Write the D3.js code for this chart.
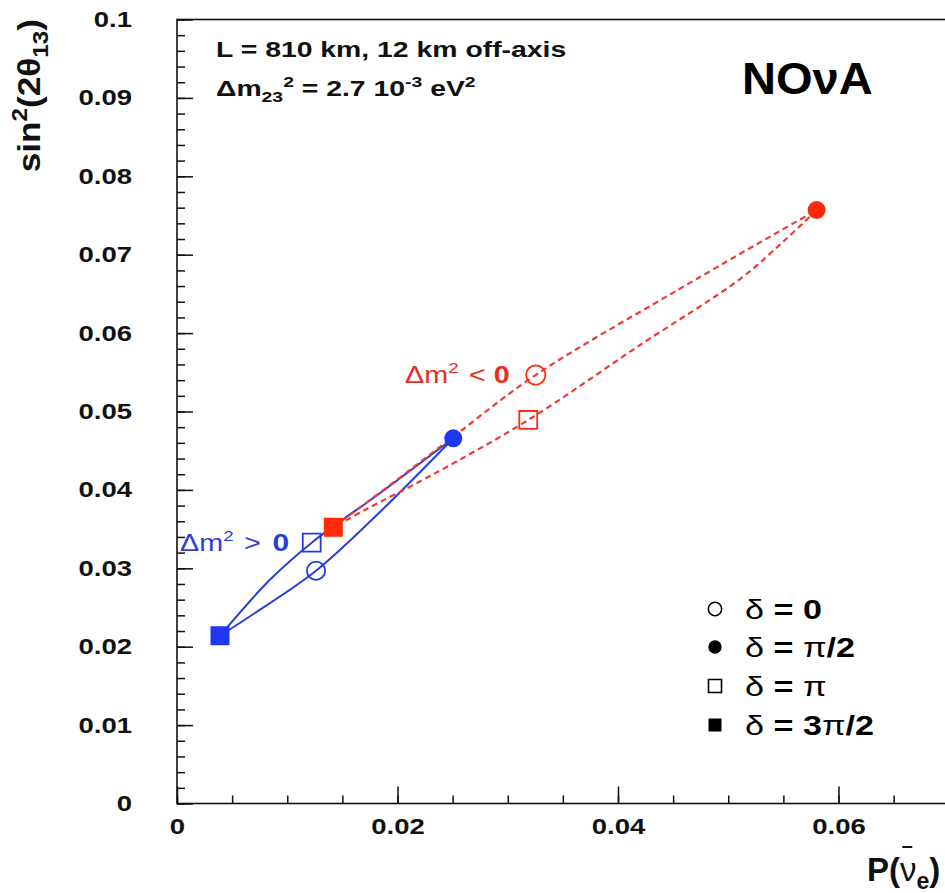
<!DOCTYPE html>
<html>
<head>
<meta charset="utf-8">
<script src="https://cdn.jsdelivr.net/npm/d3@7"></script>
<style>
  html, body { margin: 0; padding: 0; background: #fff; }
  svg { display: block; }
  text { font-family: "Liberation Sans", Arial, Helvetica, sans-serif; fill: #111; }
</style>
</head>
<body>
<svg id="chart" width="945" height="893"></svg>
<script>
// CP phase values marked on every loop
const deltaLabels = ["0", "π/2", "π", "3π/2"];

// Normal hierarchy (Δm² > 0): P(ν̄e) and sin²(2θ13) at δ = 0, π/2, π, 3π/2
const normalP = [0.01261, 0.02506, 0.01222, 0.00390];
const normalS = [0.02969, 0.04658, 0.03327, 0.02140];

// Inverted hierarchy (Δm² < 0)
const invertedP = [0.03254, 0.05802, 0.03186, 0.01418];
const invertedS = [0.05466, 0.07570, 0.04892, 0.03523];

// δ loops, each split into two arcs between its end points
// normal: π/2 → π → 3π/2
const normalArcAP = [0.02506, 0.01868, 0.01222, 0.00840, 0.00390];
const normalArcAS = [0.04658, 0.03986, 0.03327, 0.02850, 0.02140];
// normal: 3π/2 → 0 → π/2
const normalArcBP = [0.00390, 0.00707, 0.01261, 0.01841, 0.02506];
const normalArcBS = [0.02140, 0.02430, 0.02969, 0.03718, 0.04658];
// inverted: 3π/2 → 0 → π/2
const invertedArcAP = [0.01418, 0.02023, 0.02503, 0.03254, 0.04526, 0.05802];
const invertedArcAS = [0.03523, 0.04158, 0.04675, 0.05466, 0.06537, 0.07570];
// inverted: π/2 → π → 3π/2
const invertedArcBP = [0.05802, 0.05515, 0.05107, 0.04200, 0.03186, 0.02295, 0.01721, 0.01418];
const invertedArcBS = [0.07570, 0.07188, 0.06690, 0.05848, 0.04892, 0.04177, 0.03757, 0.03523];

// Axis ticks
const xTicks = [0, 0.02, 0.04, 0.06];
const xTickLabels = ["0", "0.02", "0.04", "0.06"];
const yTicks = [0, 0.01, 0.02, 0.03, 0.04, 0.05, 0.06, 0.07, 0.08, 0.09, 0.1];
const yTickLabels = ["0", "0.01", "0.02", "0.03", "0.04", "0.05", "0.06", "0.07", "0.08", "0.09", "0.1"];

const BLUE = "#1f37f0", BLUE_LINE = "#2a3fd4", BLUE_TEXT = "#2b3ed6";
const RED = "#ff2a0c", RED_LINE = "#ee3a36", RED_TEXT = "#ee2a1e";

const svg = d3.select("#chart");
svg.append("rect").attr("width", 945).attr("height", 893).attr("fill", "#fff");

const x = d3.scaleLinear().domain([0, 0.07]).range([177, 948.75]);
const y = d3.scaleLinear().domain([0, 0.1]).range([803.5, 19.5]);

// Frame
svg.append("rect")
  .attr("x", x(0)).attr("y", y(0.1))
  .attr("width", x(0.07) - x(0)).attr("height", y(0) - y(0.1))
  .attr("fill", "none").attr("stroke", "#111").attr("stroke-width", 1.6);

function styleAxis(g) {
  g.select(".domain").remove();
  g.selectAll(".tick line").attr("stroke", "#111").attr("stroke-width", 1.5);
}

// Minor ticks
svg.append("g").attr("transform", `translate(${x(0)},0)`)
  .call(d3.axisLeft(y).tickValues(d3.range(51).map(i => i * 0.002)).tickSize(-8).tickFormat(""))
  .call(styleAxis);
svg.append("g").attr("transform", `translate(0,${y(0)})`)
  .call(d3.axisBottom(x).tickValues(d3.range(15).map(i => i * 0.005)).tickSize(-8).tickFormat(""))
  .call(styleAxis);

// Major ticks and labels
const yPad = 45;
const yAx = svg.append("g").attr("transform", `translate(${x(0)},0)`)
  .call(d3.axisLeft(y).tickValues(yTicks).tickSize(-16).tickPadding(yPad)
        .tickFormat((d, i) => yTickLabels[i]))
  .call(styleAxis);
yAx.selectAll(".tick text")
  .attr("x", 0)
  .attr("transform", `translate(${-yPad},0) scale(1.25,1)`)
  .attr("font-size", 22).attr("font-weight", "bold").attr("fill", "#111");

const xAx = svg.append("g").attr("transform", `translate(0,${y(0)})`)
  .call(d3.axisBottom(x).tickValues(xTicks).tickSize(-17).tickPadding(14.5)
        .tickFormat((d, i) => xTickLabels[i]))
  .call(styleAxis);
xAx.selectAll(".tick text")
  .attr("transform", "scale(1.25,1)")
  .attr("font-size", 22).attr("font-weight", "bold").attr("fill", "#111");

// Rich text helper: parts carry their own size, weight, baseline shift and extra gap
function richText(tx, ty, parts, opt) {
  const o = Object.assign({ sx: 1, anchor: "start", rotate: 0, fill: "#111" }, opt || {});
  const g = svg.append("g")
    .attr("transform", `translate(${tx},${ty}) rotate(${o.rotate}) scale(${o.sx},1)`);
  const t = g.append("text").attr("text-anchor", o.anchor).attr("fill", o.fill);
  let prev = 0;
  parts.forEach(p => {
    const shift = p.shift || 0;
    const ts = t.append("tspan")
      .attr("dy", shift - prev)
      .attr("font-size", p.size)
      .attr("font-weight", p.weight || "normal")
      .attr("fill", p.fill || o.fill)
      .text(p.t);
    if (p.dx) ts.attr("dx", p.dx);
    prev = shift;
  });
  return g;
}

// Axis titles
richText(40, 19, [
  { t: "sin", size: 32, weight: "bold" },
  { t: "2", size: 22, weight: "bold", shift: -13 },
  { t: "(2θ", size: 32, weight: "bold" },
  { t: "13", size: 22, weight: "bold", shift: 8 },
  { t: ")", size: 32, weight: "bold" }
], { anchor: "end", rotate: -90, sx: 1.1 });

// P(ν̄e): laid out from its left end so the bar can sit over the ν
const xTitle = richText(867, 881, [
  { t: "P(", size: 33, weight: "bold" },
  { t: "ν", size: 33, weight: "normal" },
  { t: "e", size: 23, weight: "bold", shift: 8 },
  { t: ")", size: 33, weight: "bold" }
]);
{
  const tNode = xTitle.select("text").node();
  const s = tNode.getStartPositionOfChar(2);
  const e = tNode.getEndPositionOfChar(2);
  const cx = (s.x + e.x) / 2 - 1;
  xTitle.append("line")
    .attr("x1", cx - 5).attr("x2", cx + 5)
    .attr("y1", -34).attr("y2", -34)
    .attr("stroke", "#111").attr("stroke-width", 2);
}

// Experiment annotations
richText(216, 57, [
  { t: "L = 810 km, 12 km off-axis", size: 22, weight: "bold" }
], { sx: 1.29 });

richText(216, 96, [
  { t: "Δm", size: 22, weight: "bold" },
  { t: "23", size: 15, weight: "bold", shift: 6 },
  { t: "2", size: 15, weight: "bold", shift: -9 },
  { t: " = 2.7 10", size: 22, weight: "bold" },
  { t: "-3", size: 15, weight: "bold", shift: -9 },
  { t: " eV", size: 22, weight: "bold" },
  { t: "2", size: 15, weight: "bold", shift: -9 }
], { sx: 1.29 });

richText(742, 93.5, [
  { t: "NOνA", size: 44, weight: "bold" }
], { sx: 1.07, fill: "#000" });

// δ loops
const arc = d3.line()
  .x(d => x(d[0])).y(d => y(d[1]))
  .curve(d3.curveCatmullRom.alpha(0.5));
const zip = (P, S) => P.map((p, i) => [p, S[i]]);

[zip(normalArcAP, normalArcAS), zip(normalArcBP, normalArcBS)].forEach(pts => {
  svg.append("path").datum(pts).attr("d", arc)
    .attr("fill", "none").attr("stroke", BLUE_LINE).attr("stroke-width", 2)
    .attr("stroke-linejoin", "round");
});
[zip(invertedArcAP, invertedArcAS), zip(invertedArcBP, invertedArcBS)].forEach(pts => {
  svg.append("path").datum(pts).attr("d", arc)
    .attr("fill", "none").attr("stroke", RED_LINE).attr("stroke-width", 2.2)
    .attr("stroke-dasharray", "6,4");
});

// Markers: δ = 0 open circle, π/2 filled circle, π open square, 3π/2 filled square
const markerType = [d3.symbolCircle, d3.symbolCircle, d3.symbolSquare, d3.symbolSquare];
const markerFilled = [false, true, false, true];

function drawMarkers(P, S, color, sizes) {
  P.forEach((p, i) => {
    svg.append("path")
      .attr("d", d3.symbol().type(markerType[i]).size(sizes[i])())
      .attr("transform", `translate(${x(p)},${y(S[i])})`)
      .attr("fill", markerFilled[i] ? color : "none")
      .attr("stroke", color)
      .attr("stroke-width", markerFilled[i] ? 0 : 1.8);
  });
}
drawMarkers(normalP, normalS, BLUE, [260, 254, 320, 361]);
drawMarkers(invertedP, invertedS, RED, [290, 254, 320, 361]);

// Hierarchy labels
richText(180, 551, [
  { t: "Δm", size: 23, weight: "normal" },
  { t: "2", size: 15, weight: "normal", shift: -10 },
  { t: " > ", size: 23, weight: "normal", dx: 2 },
  { t: "0", size: 24, weight: "bold", dx: 3 }
], { sx: 1.25, fill: BLUE_TEXT });

richText(405, 383, [
  { t: "Δm", size: 23, weight: "normal" },
  { t: "2", size: 15, weight: "normal", shift: -10 },
  { t: " < ", size: 23, weight: "normal", dx: 2 },
  { t: "0", size: 23, weight: "bold" }
], { sx: 1.25, fill: RED_TEXT });

// Legend
const legendRowY = [609, 647, 686, 725];
deltaLabels.forEach((lab, i) => {
  const cy = legendRowY[i];
  svg.append("path")
    .attr("d", d3.symbol().type(markerType[i]).size(i < 2 ? 140 : 169)())
    .attr("transform", `translate(715,${cy})`)
    .attr("fill", markerFilled[i] ? "#000" : "none")
    .attr("stroke", "#000")
    .attr("stroke-width", markerFilled[i] ? 0 : 1.6);
  const parts = [{ t: "δ", size: 28, weight: "normal" }, { t: " = ", size: 28, weight: "bold" }];
  lab.split(/(π)/).filter(s => s.length).forEach(s => {
    parts.push({ t: s, size: 28, weight: s === "π" ? "normal" : "bold" });
  });
  richText(745, cy + 10, parts, { sx: 1.22, fill: "#000" });
});
</script>
</body>
</html>
